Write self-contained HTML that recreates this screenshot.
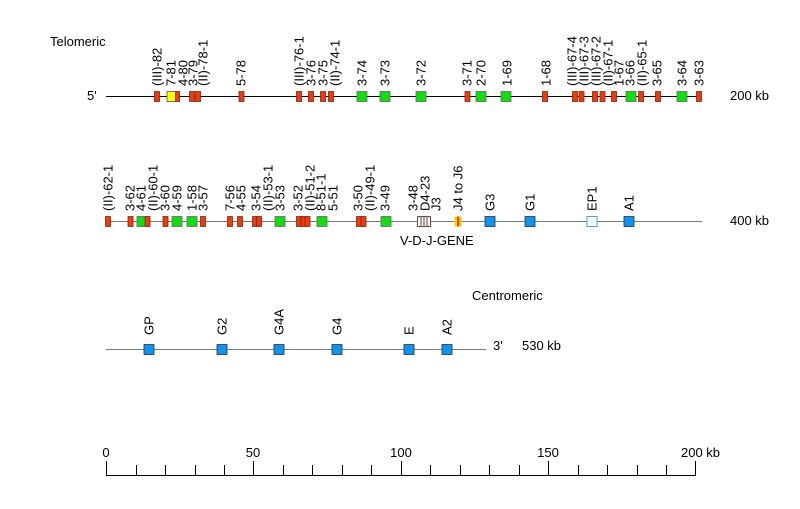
<!DOCTYPE html>
<html><head><meta charset="utf-8"><style>
body{margin:0;background:#fff}
svg{display:block;font-family:"Liberation Sans",Arial,sans-serif;font-size:13px}
.r{fill:#f03a0e;stroke:#7a2a10;stroke-width:0.8}
.g{fill:#11dd11;stroke:#666;stroke-width:0.8}
.b{fill:#1192ee;stroke:#234;stroke-width:0.8}
</style></head><body>
<svg width="800" height="509" viewBox="0 0 800 509">
<text x="50" y="46">Telomeric</text>
<text x="87" y="100">5'</text>
<text x="730" y="100">200 kb</text>
<line x1="106" y1="96.5" x2="700" y2="96.5" stroke="#000" stroke-width="1"/>
<g>
<rect class="r" x="154.5" y="91.5" width="5" height="10"/>
<rect x="167" y="91.5" width="9" height="10" fill="#ffff00" stroke="#555" stroke-width="0.8"/>
<rect class="r" x="175.5" y="91.5" width="4" height="10"/>
<rect class="r" x="189.5" y="91.5" width="5" height="10"/>
<rect class="r" x="195.5" y="91.5" width="5" height="10"/>
<rect class="r" x="239" y="91.5" width="5" height="10"/>
<rect class="r" x="296.5" y="91.5" width="5" height="10"/>
<rect class="r" x="308.5" y="91.5" width="5" height="10"/>
<rect class="r" x="320.5" y="91.5" width="5" height="10"/>
<rect class="r" x="328.5" y="91.5" width="5" height="10"/>
<rect class="g" x="357" y="91.5" width="10" height="10"/>
<rect class="g" x="380" y="91.5" width="10" height="10"/>
<rect class="g" x="416" y="91.5" width="10" height="10"/>
<rect class="r" x="465" y="91.5" width="5" height="10"/>
<rect class="g" x="476" y="91.5" width="10" height="10"/>
<rect class="g" x="501" y="91.5" width="10" height="10"/>
<rect class="r" x="542.5" y="91.5" width="5" height="10"/>
<rect class="r" x="572.5" y="91.5" width="5" height="10"/>
<rect class="r" x="579" y="91.5" width="5" height="10"/>
<rect class="r" x="592.5" y="91.5" width="5" height="10"/>
<rect class="r" x="600" y="91.5" width="5" height="10"/>
<rect class="r" x="611.5" y="91.5" width="5" height="10"/>
<rect class="g" x="626" y="91.5" width="10" height="10"/>
<rect class="r" x="638.5" y="91.5" width="5" height="10"/>
<rect class="r" x="655.5" y="91.5" width="5" height="10"/>
<rect class="g" x="677" y="91.5" width="10" height="10"/>
<rect class="r" x="696.5" y="91.5" width="5" height="10"/>
</g>
<g>
<text transform="translate(161.5,86) rotate(-90)">(III)-82</text>
<text transform="translate(175.5,86) rotate(-90)">7-81</text>
<text transform="translate(187.5,86) rotate(-90)">4-80</text>
<text transform="translate(197.5,86) rotate(-90)">3-79</text>
<text transform="translate(207.5,86) rotate(-90)">(II)-78-1</text>
<text transform="translate(245.5,86) rotate(-90)">5-78</text>
<text transform="translate(303.5,86) rotate(-90)">(III)-76-1</text>
<text transform="translate(315.5,86) rotate(-90)">3-76</text>
<text transform="translate(327.5,86) rotate(-90)">3-75</text>
<text transform="translate(339.5,86) rotate(-90)">(II)-74-1</text>
<text transform="translate(366.5,86) rotate(-90)">3-74</text>
<text transform="translate(389.5,86) rotate(-90)">3-73</text>
<text transform="translate(425.5,86) rotate(-90)">3-72</text>
<text transform="translate(471.5,86) rotate(-90)">3-71</text>
<text transform="translate(485.5,86) rotate(-90)">2-70</text>
<text transform="translate(511.5,86) rotate(-90)">1-69</text>
<text transform="translate(550.5,86) rotate(-90)">1-68</text>
<text transform="translate(576.5,86) rotate(-90)">(III)-67-4</text>
<text transform="translate(588.5,86) rotate(-90)">(III)-67-3</text>
<text transform="translate(600.5,86) rotate(-90)">(III)-67-2</text>
<text transform="translate(612.5,86) rotate(-90)">(II)-67-1</text>
<text transform="translate(623.5,86) rotate(-90)">1-67</text>
<text transform="translate(634.5,86) rotate(-90)">3-66</text>
<text transform="translate(646.5,86) rotate(-90)">(II)-65-1</text>
<text transform="translate(661.5,86) rotate(-90)">3-65</text>
<text transform="translate(686.5,86) rotate(-90)">3-64</text>
<text transform="translate(703.5,86) rotate(-90)">3-63</text>
</g>

<text x="730" y="225">400 kb</text>
<line x1="106" y1="221.5" x2="702" y2="221.5" stroke="#777" stroke-width="1"/>
<g>
<rect class="r" x="105.5" y="216.5" width="5" height="10"/>
<rect class="r" x="128" y="216.5" width="5" height="10"/>
<rect class="g" x="137" y="216.5" width="9" height="10"/>
<rect class="r" x="145" y="216.5" width="5" height="10"/>
<rect class="r" x="163" y="216.5" width="5" height="10"/>
<rect class="g" x="172" y="216.5" width="10" height="10"/>
<rect class="g" x="187" y="216.5" width="10" height="10"/>
<rect class="r" x="200.5" y="216.5" width="5" height="10"/>
<rect class="r" x="227.5" y="216.5" width="5" height="10"/>
<rect class="r" x="237.5" y="216.5" width="5" height="10"/>
<rect class="r" x="252.5" y="216.5" width="5" height="10"/>
<rect class="r" x="256.5" y="216.5" width="5" height="10"/>
<rect class="g" x="275" y="216.5" width="10" height="10"/>
<rect class="r" x="296.5" y="216.5" width="5" height="10"/>
<rect class="r" x="301" y="216.5" width="5" height="10"/>
<rect class="r" x="305" y="216.5" width="5" height="10"/>
<rect class="g" x="317" y="216.5" width="10" height="10"/>
<rect class="r" x="356.5" y="216.5" width="5" height="10"/>
<rect class="r" x="361" y="216.5" width="5" height="10"/>
<rect class="g" x="381" y="216.5" width="10" height="10"/>
<rect x="417.5" y="216.5" width="13" height="10" fill="#fff" stroke="#6b3a2a" stroke-width="0.9"/>
<line x1="421" y1="216.5" x2="421" y2="226.5" stroke="#6b3a2a"/>
<line x1="424" y1="216.5" x2="424" y2="226.5" stroke="#6b3a2a"/>
<line x1="427" y1="216.5" x2="427" y2="226.5" stroke="#6b3a2a"/>
<rect x="454.5" y="216.5" width="7" height="10" fill="#ffcc00"/>
<rect x="457" y="216.5" width="2" height="10" fill="#f04010"/>
<rect class="b" x="485" y="216.5" width="10" height="10"/>
<rect class="b" x="525" y="216.5" width="10" height="10"/>
<rect x="587" y="216.5" width="10" height="10" fill="#fff" stroke="#3aa8f0" stroke-width="1"/>
<rect class="b" x="624" y="216.5" width="10" height="10"/>
</g>
<text x="400" y="245">V-D-J-GENE</text>
<g>
<text transform="translate(112.5,211) rotate(-90)">(II)-62-1</text>
<text transform="translate(134.5,211) rotate(-90)">3-62</text>
<text transform="translate(145.5,211) rotate(-90)">4-61</text>
<text transform="translate(157.5,211) rotate(-90)">(II)-60-1</text>
<text transform="translate(169.5,211) rotate(-90)">3-60</text>
<text transform="translate(181.5,211) rotate(-90)">4-59</text>
<text transform="translate(196.5,211) rotate(-90)">1-58</text>
<text transform="translate(207.5,211) rotate(-90)">3-57</text>
<text transform="translate(234.5,211) rotate(-90)">7-56</text>
<text transform="translate(245.5,211) rotate(-90)">4-55</text>
<text transform="translate(260.5,211) rotate(-90)">3-54</text>
<text transform="translate(272.5,211) rotate(-90)">(II)-53-1</text>
<text transform="translate(284.5,211) rotate(-90)">3-53</text>
<text transform="translate(302.5,211) rotate(-90)">3-52</text>
<text transform="translate(314.5,211) rotate(-90)">(II)-51-2</text>
<text transform="translate(325.5,211) rotate(-90)">8-51-1</text>
<text transform="translate(337.5,211) rotate(-90)">5-51</text>
<text transform="translate(362.5,211) rotate(-90)">3-50</text>
<text transform="translate(374.5,211) rotate(-90)">(II)-49-1</text>
<text transform="translate(389.5,211) rotate(-90)">3-49</text>
<text transform="translate(417.5,211) rotate(-90)">3-48</text>
<text transform="translate(429.5,211) rotate(-90)">D4-23</text>
<text transform="translate(440.5,211) rotate(-90)">J3</text>
<text transform="translate(462.5,211) rotate(-90)">J4 to J6</text>
<text transform="translate(494.5,211) rotate(-90)">G3</text>
<text transform="translate(534.5,211) rotate(-90)">G1</text>
<text transform="translate(596.5,211) rotate(-90)">EP1</text>
<text transform="translate(633.5,211) rotate(-90)">A1</text>
</g>

<text x="472" y="300">Centromeric</text>
<line x1="106" y1="349.5" x2="486" y2="349.5" stroke="#777" stroke-width="1"/>
<rect class="b" x="144" y="344.5" width="10" height="10"/>
<rect class="b" x="217" y="344.5" width="10" height="10"/>
<rect class="b" x="274" y="344.5" width="10" height="10"/>
<rect class="b" x="332" y="344.5" width="10" height="10"/>
<rect class="b" x="404" y="344.5" width="10" height="10"/>
<rect class="b" x="442" y="344.5" width="10" height="10"/>
<text transform="translate(153.5,335) rotate(-90)">GP</text>
<text transform="translate(226.5,335) rotate(-90)">G2</text>
<text transform="translate(283.5,335) rotate(-90)">G4A</text>
<text transform="translate(341.5,335) rotate(-90)">G4</text>
<text transform="translate(413.5,335) rotate(-90)">E</text>
<text transform="translate(451.5,335) rotate(-90)">A2</text>
<text x="493" y="350">3'</text>
<text x="522" y="350">530 kb</text>

<g stroke="#000" stroke-width="1">
<line x1="106" y1="475.5" x2="696" y2="475.5"/>
<line x1="106.5" y1="461" x2="106.5" y2="475"/>
<line x1="136.5" y1="465" x2="136.5" y2="475"/>
<line x1="165.5" y1="465" x2="165.5" y2="475"/>
<line x1="195.5" y1="465" x2="195.5" y2="475"/>
<line x1="224.5" y1="465" x2="224.5" y2="475"/>
<line x1="253.5" y1="461" x2="253.5" y2="475"/>
<line x1="283.5" y1="465" x2="283.5" y2="475"/>
<line x1="312.5" y1="465" x2="312.5" y2="475"/>
<line x1="342.5" y1="465" x2="342.5" y2="475"/>
<line x1="371.5" y1="465" x2="371.5" y2="475"/>
<line x1="401.5" y1="461" x2="401.5" y2="475"/>
<line x1="430.5" y1="465" x2="430.5" y2="475"/>
<line x1="460.5" y1="465" x2="460.5" y2="475"/>
<line x1="489.5" y1="465" x2="489.5" y2="475"/>
<line x1="519.5" y1="465" x2="519.5" y2="475"/>
<line x1="548.5" y1="461" x2="548.5" y2="475"/>
<line x1="578.5" y1="465" x2="578.5" y2="475"/>
<line x1="607.5" y1="465" x2="607.5" y2="475"/>
<line x1="637.5" y1="465" x2="637.5" y2="475"/>
<line x1="666.5" y1="465" x2="666.5" y2="475"/>
<line x1="695.5" y1="461" x2="695.5" y2="475"/>
</g>
<text x="106" y="457" text-anchor="middle">0</text>
<text x="253" y="457" text-anchor="middle">50</text>
<text x="401" y="457" text-anchor="middle">100</text>
<text x="548" y="457" text-anchor="middle">150</text>
<text x="681" y="457">200 kb</text>
</svg>
</body></html>
